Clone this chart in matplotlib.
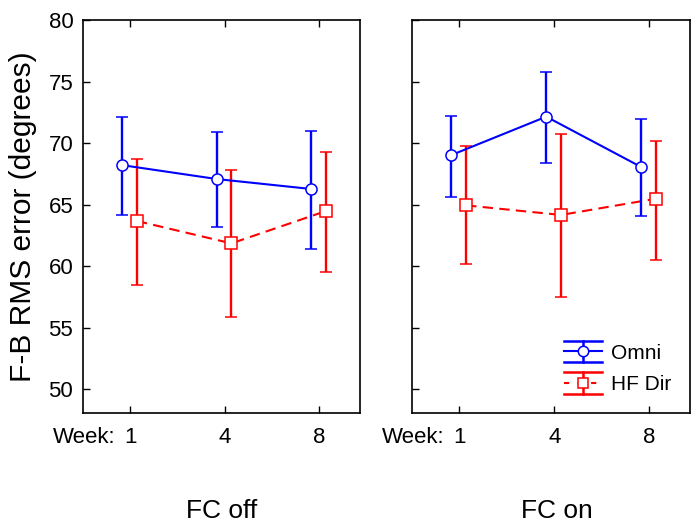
import matplotlib
matplotlib.use("Agg")
import matplotlib.pyplot as plt
from matplotlib.lines import Line2D
from matplotlib.legend_handler import HandlerBase
from matplotlib.transforms import offset_copy

plt.rcParams['font.family'] = ['Liberation Sans', 'DejaVu Sans']

weeks = ["1", "4", "8"]
panels = ["FC off", "FC on"]
series = ["Omni", "HF Dir"]

omni_off = [68.2, 67.07, 66.26]
omni_off_lo = [64.15, 63.17, 61.36]
omni_off_hi = [72.1, 70.87, 70.98]
hf_off = [63.66, 61.84, 64.47]
hf_off_lo = [58.46, 55.88, 59.51]
hf_off_hi = [68.72, 67.78, 69.27]

omni_on = [69.02, 72.14, 68.05]
omni_on_lo = [65.63, 68.40, 64.07]
omni_on_hi = [72.22, 75.80, 71.98]
hf_on = [64.93, 64.15, 65.47]
hf_on_lo = [60.16, 57.48, 60.46]
hf_on_hi = [69.76, 70.71, 70.16]

yticks = [50, 55, 60, 65, 70, 75, 80]

BLUE = "#0000ff"
RED = "#ff0000"
TICK_FS = 16
PAD = 10

fig = plt.figure(figsize=(6.91, 5.24), dpi=100)
ax1 = fig.add_axes([83/691, 1-413/524, 277/691, 393/524])
ax2 = fig.add_axes([412/691, 1-413/524, 278/691, 393/524])

data = [
    (omni_off, omni_off_lo, omni_off_hi, hf_off, hf_off_lo, hf_off_hi),
    (omni_on, omni_on_lo, omni_on_hi, hf_on, hf_on_lo, hf_on_hi),
]

x = list(range(len(weeks)))
for ax, (om, oml, omh, hf, hfl, hfh) in zip([ax1, ax2], data):
    xo = [v - 0.085 for v in x]
    xh = [v + 0.07 for v in x]
    ax.errorbar(xh, hf, yerr=[[m - l for m, l in zip(hf, hfl)], [h - m for m, h in zip(hf, hfh)]],
                color=RED, ls='--', lw=1.5, elinewidth=1.7, capsize=4, capthick=1.7,
                marker='s', ms=8, mfc='white', mec=RED, mew=1.1, dashes=(5, 3), zorder=2)
    ax.errorbar(xo, om, yerr=[[m - l for m, l in zip(om, oml)], [h - m for m, h in zip(om, omh)]],
                color=BLUE, ls='-', lw=1.5, elinewidth=1.7, capsize=4, capthick=1.7,
                marker='o', ms=8, mfc='white', mec=BLUE, mew=1.1, zorder=3)
    ax.set_xlim(-0.5, 2.43)
    ax.set_ylim(48.05, 80)
    ax.set_yticks(yticks)
    ax.set_xticks(x)
    ax.set_xticklabels(weeks)
    ax.tick_params(axis='both', direction='in', length=5, width=1, labelsize=TICK_FS,
                   top=True, bottom=True, left=True, right=False)
    ax.tick_params(axis='x', pad=PAD)
    ax.tick_params(axis='y', pad=7)
    for s in ax.spines.values():
        s.set_linewidth(1.2)
    tr = offset_copy(ax.transAxes, fig=fig, x=0, y=-PAD, units='points')
    ax.text(-0.107, 0, "Week:", transform=tr, fontsize=TICK_FS, ha='left', va='top')

ax2.tick_params(axis='y', labelleft=False)
ax1.set_ylabel("F-B RMS error (degrees)", fontsize=21.5, labelpad=8)

fig.text(222/691, 1-511/524, panels[0], fontsize=19, ha='center', va='center')
fig.text(557/691, 1-511/524, panels[1], fontsize=19, ha='center', va='center')


class ErrHandler(HandlerBase):
    def __init__(self, color, ls, marker):
        super().__init__()
        self.color = color
        self.ls = ls
        self.marker = marker

    def create_artists(self, legend, orig_handle, xdescent, ydescent, width, height, fontsize, trans):
        cy = height / 2 - ydescent
        x0 = -xdescent
        x1 = x0 + width
        xm = (x0 + x1) / 2
        dy = 7.8
        arts = []
        for yy in (cy + dy, cy - dy):
            arts.append(Line2D([x0, x1], [yy, yy], color=self.color, lw=1.8, transform=trans))
        arts.append(Line2D([xm, xm], [cy - dy, cy + dy], color=self.color, lw=1.8, transform=trans))
        if self.ls == '--':
            arts.append(Line2D([x0, x1], [cy, cy], color=self.color, lw=1.5, ls='--', dashes=(2.5, 4), transform=trans))
        else:
            arts.append(Line2D([x0, x1], [cy, cy], color=self.color, lw=1.5, transform=trans))
        arts.append(Line2D([xm], [cy], marker=self.marker, ms=7.5, mfc='white', mec=self.color,
                           mew=1.1, ls='none', transform=trans))
        return arts


h1 = Line2D([], [], color=BLUE)
h2 = Line2D([], [], color=RED)
leg = ax2.legend([h1, h2], series, loc='lower right', bbox_to_anchor=(1.0, 0.0),
                 handler_map={h1: ErrHandler(BLUE, '-', 'o'), h2: ErrHandler(RED, '--', 's')},
                 frameon=False, fontsize=15, handlelength=1.8, handletextpad=0.45,
                 labelspacing=0.6, borderpad=0.6, borderaxespad=0.3)

fig.savefig("out.png", dpi=100)
